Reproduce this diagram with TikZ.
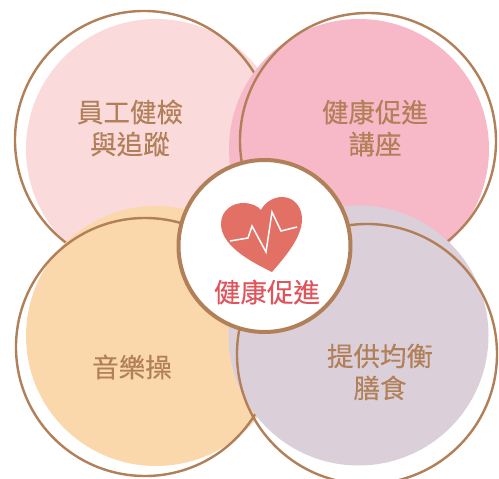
\documentclass[tikz,border=0pt]{standalone}
\usepackage{fontspec}
\setmainfont[FakeBold=0.3]{Noto Sans CJK TC}
\definecolor{brownline}{HTML}{B17F58}
\definecolor{pinka}{HTML}{FADADA}
\definecolor{pinkb}{HTML}{F7B9C8}
\definecolor{orangea}{HTML}{FBD7AC}
\definecolor{mauvea}{HTML}{DBD0DA}
\definecolor{heartc}{HTML}{E37065}
\definecolor{titlec}{HTML}{E0555C}
\tikzset{
  x=1pt,y=-1pt,
  ringline/.style={draw=brownline,line width=2.4pt},
  label/.style={text=brownline,font=\fontsize{26.5}{32}\selectfont,align=center,inner sep=0pt}
}
\begin{document}
\begin{tikzpicture}
\useasboundingbox (0,0) rectangle (499,479);
\clip (0,0) rectangle (499,479);
\fill[pinka] (156,149) circle[radius=130];
\draw[ringline] (144,140) circle[radius=129];
\fill[pinkb] (359,149) circle[radius=130];
\draw[ringline] (368,141) circle[radius=128];
\fill[orangea] (156,336) circle[radius=130];
\draw[ringline] (145,347) circle[radius=129];
\fill[mauvea] (358.5,335.5) circle[radius=130];
\draw[ringline] (367,354) circle[radius=130];
% centre
\draw[ringline,line width=4pt,fill=white] (264.5,246) circle[radius=86];
% heart
\fill[heartc] (272,272) .. controls (258,265) and (221,248) .. (221,224)
  .. controls (221,210) and (233,203) .. (243,203)
  .. controls (251,203) and (258,206) .. (261,210)
  .. controls (265,202) and (274,197) .. (282,197)
  .. controls (294,197) and (302,207) .. (302,219)
  .. controls (302,238) and (284,258) .. (272,272) -- cycle;
\draw[white,line width=1.5pt,line join=miter] (230,241) -- (248,238) -- (252,226) -- (266,252) -- (272,212) -- (281,231) -- (297,227);
\node[label] (a) at (130,128) {員工健檢\\與追蹤};
\node[label] (b) at (375,128) {健康促進\\講座};
\node[label] (c) at (132,367) {音樂操};
\node[label] (d) at (380,372) {提供均衡\\膳食};
\node[label,text=titlec] (e) at (267,292) {健康促進};
\end{tikzpicture}
\end{document}
